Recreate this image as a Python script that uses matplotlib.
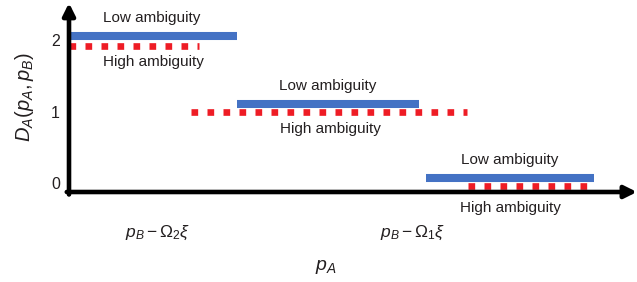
import numpy as np
import matplotlib
matplotlib.use("Agg")
import matplotlib.pyplot as plt

plt.rcParams['font.family'] = ['Liberation Sans', 'DejaVu Sans']
plt.rcParams['mathtext.fontset'] = 'custom'
plt.rcParams['mathtext.rm'] = 'Liberation Sans'
plt.rcParams['mathtext.it'] = 'Liberation Sans:italic'

# Step levels of D_A and the p_A ranges (arbitrary units from the y axis)
levels = [2, 1, 0]
low_y = [2.06, 1.11, 0.08]
low_start = [0.0, 1.68, 3.57]
low_end = [1.68, 3.50, 5.25]
high_y = [1.92, 0.99, -0.03]
high_start = [0.0, 1.22, 3.99]
high_end = [1.30, 3.98, 5.21]

# label positions for each level
low_text_x = [0.83, 2.59, 4.41]
low_text_y = [2.31, 1.35, 0.33]
high_text_x = [0.84, 2.61, 4.41]
high_text_y = [1.69, 0.76, -0.34]

xtick_pos = [0.89, 3.44]
xtick_labels = [r'$p_B - \Omega_2\xi$', r'$p_B - \Omega_1\xi$']

blue = '#4472C4'
red = '#EE1C25'
ink = '#231f20'

fig = plt.figure(figsize=(6.37, 2.82), dpi=100)
ax = fig.add_axes([69/637, 90/282, 559/637, 178/282])
ax.set_xlim(0, 5.59)
ax.set_ylim(-0.12, 2.36)
for s in ax.spines.values():
    s.set_visible(False)

for i in range(len(levels)):
    ax.plot([low_start[i], low_end[i]], [low_y[i], low_y[i]], color=blue,
            lw=5.8, solid_capstyle='butt', clip_on=False, zorder=3)
    ax.plot([high_start[i], high_end[i]], [high_y[i], high_y[i]], color=red,
            lw=4.8, linestyle=(0, (1, 1.4)), dash_capstyle='butt',
            clip_on=False, zorder=2)
    ax.text(low_text_x[i], low_text_y[i], 'Low ambiguity', ha='center',
            va='center', fontsize=11, color=ink)
    ax.text(high_text_x[i], high_text_y[i], 'High ambiguity', ha='center',
            va='center', fontsize=11, color=ink)

# axes with arrow heads
ax.annotate('', xy=(0, 1.062), xytext=(0, -0.014), xycoords='axes fraction',
            arrowprops=dict(arrowstyle='-|>', lw=3.3, color='black',
                            mutation_scale=18, shrinkA=0, shrinkB=0))
ax.annotate('', xy=(1.016, 0), xytext=(-0.004, 0), xycoords='axes fraction',
            arrowprops=dict(arrowstyle='-|>', lw=3.3, color='black',
                            mutation_scale=18, shrinkA=0, shrinkB=0))

ax.set_yticks(levels)
ax.set_yticklabels([str(v) for v in levels], fontsize=11.5, color=ink)
ax.set_xticks(xtick_pos)
ax.set_xticklabels(xtick_labels, fontsize=12.5, color=ink)
ax.tick_params(axis='y', length=0, pad=6.5)
ax.tick_params(axis='x', length=0, pad=23)

ax.text(-0.079, 0.534, r'$D_A(p_A, p_B)$', transform=ax.transAxes,
        rotation=90, ha='center', va='center', fontsize=14.5, color=ink)
ax.text(0.46, -0.42, r'$p_A$', transform=ax.transAxes, ha='center',
        va='center', fontsize=14, color=ink)

fig.savefig('out.png', dpi=100)
